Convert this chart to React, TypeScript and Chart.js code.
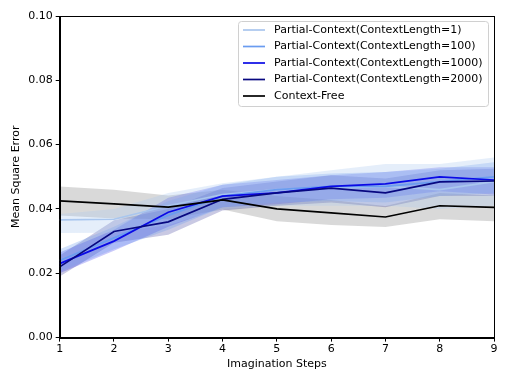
import React, { useEffect, useRef } from "react";
import { Chart, registerables } from "chart.js";

Chart.register(...registerables);

const steps = [1, 2, 3, 4, 5, 6, 7, 8, 9];
const seriesLabels = [
  "Partial-Context(ContextLength=1)",
  "Partial-Context(ContextLength=100)",
  "Partial-Context(ContextLength=1000)",
  "Partial-Context(ContextLength=2000)",
  "Context-Free",
];
const seriesColors = ["#a9c6ee", "#6a9cf0", "#0a0ae6", "#080880", "#000000"];
const bandColors = [
  "rgba(169,198,238,0.3)",
  "rgba(106,156,240,0.3)",
  "rgba(10,10,230,0.22)",
  "rgba(8,8,128,0.22)",
  "rgba(0,0,0,0.15)",
];

const cl1Mean = [0.0366, 0.0368, 0.041, 0.0445, 0.046, 0.0465, 0.047, 0.046, 0.0485];
const cl1Low = [0.0325, 0.0326, 0.035, 0.040, 0.041, 0.041, 0.041, 0.040, 0.041];
const cl1High = [0.0384, 0.040, 0.045, 0.048, 0.050, 0.052, 0.054, 0.054, 0.056];

const cl100Mean = [0.0240, 0.0310, 0.0380, 0.0440, 0.0460, 0.0470, 0.0470, 0.0485, 0.0500];
const cl100Low = [0.0205, 0.0275, 0.0335, 0.0405, 0.0420, 0.0425, 0.0420, 0.0440, 0.0450];
const cl100High = [0.0275, 0.0345, 0.0425, 0.0475, 0.0500, 0.0510, 0.0515, 0.0525, 0.0545];

const cl1000Mean = [0.0230, 0.0300, 0.0390, 0.0440, 0.0450, 0.0470, 0.0478, 0.0500, 0.0490];
const cl1000Low = [0.0200, 0.0270, 0.0345, 0.0405, 0.0415, 0.0430, 0.0435, 0.0455, 0.0445];
const cl1000High = [0.0265, 0.0335, 0.0435, 0.0475, 0.0490, 0.0505, 0.0515, 0.0530, 0.0530];

const cl2000Mean = [0.0220, 0.0330, 0.0360, 0.0430, 0.0450, 0.0465, 0.0450, 0.0484, 0.0487];
const cl2000Low = [0.0190, 0.0295, 0.0320, 0.0395, 0.0410, 0.0420, 0.0405, 0.0440, 0.0440];
const cl2000High = [0.0255, 0.0365, 0.0400, 0.0465, 0.0485, 0.0505, 0.0495, 0.0520, 0.0525];

const cfMean = [0.0425, 0.0416, 0.0406, 0.0428, 0.0400, 0.0388, 0.0375, 0.0410, 0.0405];
const cfLow = [0.0380, 0.0370, 0.0368, 0.0398, 0.0362, 0.0350, 0.0344, 0.0368, 0.0362];
const cfHigh = [0.0470, 0.0460, 0.0442, 0.0460, 0.0440, 0.0428, 0.0409, 0.0450, 0.0442];

const yTicks = [0.0, 0.02, 0.04, 0.06, 0.08, 0.1];

const FONT = "'DejaVu Sans', sans-serif";

const toPts = (arr: number[]) => arr.map((v, i) => ({ x: steps[i], y: v }));

export default function App() {
  const ref = useRef<HTMLCanvasElement | null>(null);

  useEffect(() => {
    document.body.style.margin = "0";
    const canvas = ref.current;
    if (!canvas) return;

    const means = [cl1Mean, cl100Mean, cl1000Mean, cl2000Mean, cfMean];
    const lows = [cl1Low, cl100Low, cl1000Low, cl2000Low, cfLow];
    const highs = [cl1High, cl100High, cl1000High, cl2000High, cfHigh];

    const datasets: any[] = [];
    for (let i = 0; i < 5; i++) {
      datasets.push({
        label: "_low" + i,
        data: toPts(lows[i]),
        borderWidth: 0,
        pointRadius: 0,
        fill: false,
        order: 10,
      });
      datasets.push({
        label: "_high" + i,
        data: toPts(highs[i]),
        borderWidth: 0,
        pointRadius: 0,
        backgroundColor: bandColors[i],
        fill: "-1",
        order: 10,
      });
    }
    for (let i = 0; i < 5; i++) {
      datasets.push({
        label: seriesLabels[i],
        data: toPts(means[i]),
        borderColor: seriesColors[i],
        borderWidth: 1.7,
        pointRadius: 0,
        fill: false,
        order: 5 - i,
      });
    }

    const framePlugin = {
      id: "frameLegend",
      afterDraw(chart: any) {
        const { ctx, chartArea } = chart;
        ctx.save();
        ctx.strokeStyle = "#000";
        ctx.lineWidth = 1;
        ctx.strokeRect(
          Math.round(chartArea.left) + 0.5,
          Math.round(chartArea.top) + 0.5,
          Math.round(chartArea.right - chartArea.left),
          Math.round(chartArea.bottom - chartArea.top)
        );
        const bx = 238.5, by = 21.5, bw = 250, bh = 85;
        ctx.fillStyle = "rgba(255,255,255,0.8)";
        ctx.strokeStyle = "#d0d0d0";
        ctx.beginPath();
        const r = 3;
        ctx.moveTo(bx + r, by);
        ctx.arcTo(bx + bw, by, bx + bw, by + bh, r);
        ctx.arcTo(bx + bw, by + bh, bx, by + bh, r);
        ctx.arcTo(bx, by + bh, bx, by, r);
        ctx.arcTo(bx, by, bx + bw, by, r);
        ctx.closePath();
        ctx.fill();
        ctx.stroke();
        ctx.font = "11px " + FONT;
        ctx.textBaseline = "middle";
        ctx.textAlign = "left";
        for (let i = 0; i < 5; i++) {
          const y = 30 + i * 16.5;
          ctx.strokeStyle = seriesColors[i];
          ctx.lineWidth = 1.7;
          ctx.beginPath();
          ctx.moveTo(243, y);
          ctx.lineTo(265, y);
          ctx.stroke();
          ctx.fillStyle = "#000";
          ctx.fillText(seriesLabels[i], 274, y);
        }
        ctx.restore();
      },
    };

    const chart = new Chart(canvas, {
      type: "line",
      data: { datasets },
      options: {
        animation: false,
        responsive: false,
        layout: { padding: { top: 16, right: 15, left: 8, bottom: 7 } },
        plugins: {
          legend: { display: false },
          tooltip: { enabled: false },
          filler: { propagate: false },
        },
        scales: {
          x: {
            type: "linear",
            min: 1,
            max: 9,
            afterBuildTicks: (axis: any) => {
              axis.ticks = steps.map((v) => ({ value: v }));
            },
            grid: { display: true, drawOnChartArea: false, drawTicks: true, tickLength: 4, color: "#000" },
            border: { display: true, color: "#000" },
            ticks: { color: "#000", font: { family: FONT, size: 11 }, padding: 1, maxRotation: 0, callback: (v: any) => String(v) },
            title: { display: true, text: "Imagination Steps", color: "#000", font: { family: FONT, size: 11 }, padding: { top: 1, bottom: 4 } },
          },
          y: {
            type: "linear",
            min: 0,
            max: 0.1,
            afterBuildTicks: (axis: any) => {
              axis.ticks = yTicks.map((v) => ({ value: v }));
            },
            grid: { display: true, drawOnChartArea: false, drawTicks: true, tickLength: 4, color: "#000" },
            border: { display: true, color: "#000" },
            ticks: { color: "#000", font: { family: FONT, size: 11 }, padding: 3, callback: (v: any) => Number(v).toFixed(2) },
            title: { display: true, text: "Mean Square Error", color: "#000", font: { family: FONT, size: 11 }, padding: 2 },
          },
        },
      },
      plugins: [framePlugin],
    } as any);

    return () => chart.destroy();
  }, []);

  return <canvas ref={ref} width={509} height={382} style={{ display: "block" }} />;
}
